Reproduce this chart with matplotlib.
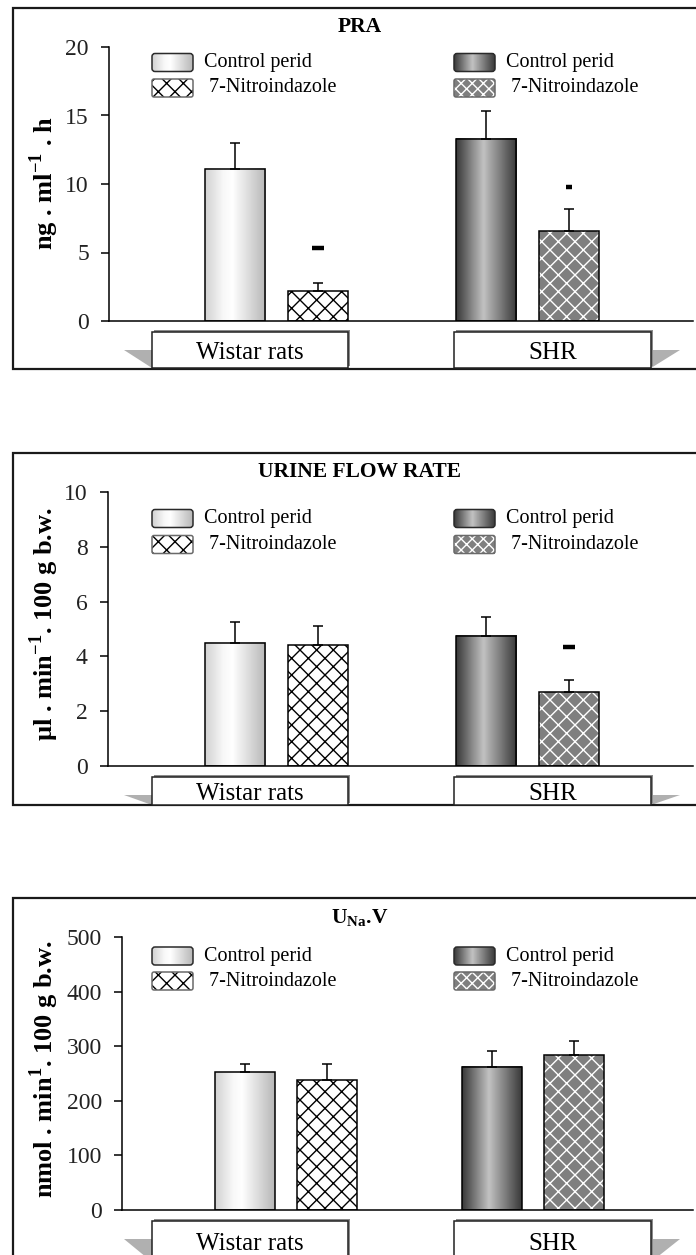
import matplotlib.pyplot as plt
import numpy as np
from matplotlib.colors import LinearSegmentedColormap
from matplotlib.patches import Rectangle, Polygon, FancyBboxPatch

plt.rcParams["font.family"] = ["Liberation Serif", "DejaVu Serif"]
plt.rcParams["mathtext.fontset"] = "custom"
plt.rcParams["mathtext.rm"] = "Liberation Serif"
plt.rcParams["mathtext.bf"] = "Liberation Serif:bold"
plt.rcParams["hatch.linewidth"] = 1.0

# data: order is Wistar control, Wistar 7-NI, SHR control, SHR 7-NI
groups = ["Wistar rats", "SHR"]
series = ["Control perid", " 7-Nitroindazole"]

pra_mean = [11.1, 2.2, 13.3, 6.6]
pra_err = [1.9, 0.6, 2.0, 1.6]
pra_sig = [np.nan, 5.3, np.nan, 9.8]
pra_ticks = [0, 5, 10, 15, 20]

ufr_mean = [4.5, 4.4, 4.75, 2.7]
ufr_err = [0.75, 0.7, 0.7, 0.45]
ufr_sig = [np.nan, np.nan, np.nan, 4.35]
ufr_ticks = [0, 2, 4, 6, 8, 10]

una_mean = [252, 238, 262, 284]
una_err = [15, 29, 30, 26]
una_sig = [np.nan, np.nan, np.nan, np.nan]
una_ticks = [0, 100, 200, 300, 400, 500]

titles = ["PRA", "URINE FLOW RATE", r"U$_{\mathbf{Na}}$.V"]
ylabels = [r"ng . ml$^{\mathbf{-1}}$ . h",
           r"µl . min$^{\mathbf{-1}}$. 100 g b.w.",
           r"nmol . min$^{\mathbf{1}}$. 100 g b.w."]

W, H = 696, 1255
fig = plt.figure(figsize=(W / 100, H / 100), dpi=100)
ov = fig.add_axes([0, 0, 1, 1])
ov.set_xlim(0, W)
ov.set_ylim(H, 0)
ov.axis("off")

wistar_cmap = LinearSegmentedColormap.from_list(
    "wistar", [(0, "#d2d2d2"), (0.3, "#f8f8f8"), (0.45, "#ffffff"), (1, "#b8b8b8")])
shr_cmap = LinearSegmentedColormap.from_list(
    "shr", [(0, "#3a3a3a"), (0.45, "#c2c2c2"), (1, "#3a3a3a")])
ctrl_cmaps = [wistar_cmap, shr_cmap]
ni_face = ["white", "#7f7f7f"]
ni_hatch = ["black", "white"]
leg_hatch = ["xx", "xxx"]
grad = np.linspace(0, 1, 64)[None, :]

layout = [
    dict(spine=109, y0=321, ytop=47, c0=276.75, step=250.75, frame=(8, 369),
         title_y=27, leg=(62.5, 88), ylab=183, box=(332, 368), tri=350),
    dict(spine=108, y0=766, ytop=492, c0=276.75, step=250.75, frame=(453, 805),
         title_y=472, leg=(518.5, 544.5), ylab=624, box=(777, 805), tri=795),
    dict(spine=122, y0=1210, ytop=937, c0=286, step=247, frame=(898, 1300),
         title_y=918, leg=(956, 981), ylab=1069, box=(1221, 1262), tri=1239),
]
panels = [(pra_mean, pra_err, pra_sig, pra_ticks),
          (ufr_mean, ufr_err, ufr_sig, ufr_ticks),
          (una_mean, una_err, una_sig, una_ticks)]
sig_width = [[0, 9, 0, 4.5], [0, 0, 0, 8], [0, 0, 0, 0]]
box_x = [(152, 348), (454, 651)]
leg_x = [152, 454]

offsets = [-0.166, 0.166]
bar_w = 0.24
x_right = 693

for k, (lay, (mean, err, sig, ticks)) in enumerate(zip(layout, panels)):
    # frame (right side is off the picture)
    ft, fb = lay["frame"]
    ov.plot([W + 5, 13, 13, W + 5], [ft, ft, fb, fb], color="#1a1a1a", lw=1.6,
            solid_joinstyle="miter")

    ax = fig.add_axes([lay["spine"] / W, 1 - lay["y0"] / H,
                       (x_right - lay["spine"]) / W, (lay["y0"] - lay["ytop"]) / H])
    ax.set_facecolor("none")

    xs = []
    for g in range(len(groups)):
        for s in range(len(series)):
            xs.append(g + offsets[s])
    xs = np.array(xs)

    for i, (x, m) in enumerate(zip(xs, mean)):
        g, s = divmod(i, 2)
        if s == 0:
            b = ax.bar(x, m, bar_w, facecolor="none", edgecolor="black", lw=1.1, zorder=3)[0]
            ax.imshow(grad, cmap=ctrl_cmaps[g], aspect="auto", zorder=2,
                      extent=(b.get_x(), b.get_x() + b.get_width(), 0, b.get_height()))
        else:
            ax.bar(x, m, bar_w, color=ni_face[g], edgecolor=ni_hatch[g], hatch="xx",
                   lw=0, zorder=2)
            ax.bar(x, m, bar_w, fill=False, edgecolor="black", lw=1.1, zorder=3)

    ax.errorbar(xs, mean, yerr=[np.zeros(len(err)), err], fmt="none", ecolor="black",
                elinewidth=1.1, capsize=3.6, capthick=1.1, zorder=4)

    for x, v, wd in zip(xs, sig, sig_width[k]):
        if not np.isnan(v):
            ax.plot(x, v, marker="_", markersize=wd, markeredgewidth=3.2,
                    color="black", zorder=5)

    ymax = ticks[-1]
    ax.set_ylim(0, ymax)
    ax.set_xlim((lay["spine"] - lay["c0"]) / lay["step"],
                (x_right - lay["c0"]) / lay["step"])
    ax.set_yticks(ticks)
    ax.set_xticks([])
    for sp in ["top", "right"]:
        ax.spines[sp].set_visible(False)
    for sp in ["left", "bottom"]:
        ax.spines[sp].set_linewidth(1.1)
    ax.tick_params(axis="y", direction="out", length=5.5, width=1.1, pad=9,
                   labelsize=17, colors="black")
    for t in ax.get_yticklabels():
        t.set_color("#222222")

    # title and y label
    ov.text(360, lay["title_y"], titles[k], ha="center", va="center",
            fontsize=15.5, fontweight="bold")
    ov.text(44, lay["ylab"], ylabels[k], rotation=90, ha="center", va="center",
            fontsize=19, fontweight="bold")

    # legends
    for g in range(len(groups)):
        lx = leg_x[g]
        for s in range(len(series)):
            yc = lay["leg"][s]
            if s == 0:
                p = FancyBboxPatch((lx, yc - 9), 41, 18,
                                   boxstyle="round,pad=0,rounding_size=3",
                                   facecolor="none", edgecolor="#2a2a2a", lw=1.1, zorder=3)
                ov.add_patch(p)
                im = ov.imshow(grad, cmap=ctrl_cmaps[g], aspect="auto", zorder=2,
                               extent=(lx, lx + 41, yc + 9, yc - 9))
                im.set_clip_path(p)
            else:
                ov.add_patch(Rectangle((lx, yc - 9), 41, 18, facecolor=ni_face[g],
                                       edgecolor=ni_hatch[g], hatch=leg_hatch[g], lw=0,
                                       zorder=2))
                ov.add_patch(FancyBboxPatch((lx, yc - 9), 41, 18,
                                            boxstyle="round,pad=0,rounding_size=2",
                                            facecolor="none", edgecolor="#6a6a6a",
                                            lw=1.1, zorder=3))
            ov.text(lx + 52, yc, series[s], ha="left", va="center", fontsize=14.5)

    # category label boxes
    bt, bb = lay["box"]
    for g, name in enumerate(groups):
        x0, x1 = box_x[g]
        ov.add_patch(Rectangle((x0 + 2, bt - 2), x1 - x0, bb - bt, facecolor="#8a8a8a",
                               edgecolor="none", zorder=2))
        ov.add_patch(Rectangle((x0, bt), x1 - x0, bb - bt, facecolor="white",
                               edgecolor="#222222", lw=1.1, zorder=3))
        ov.text((x0 + x1) / 2, (bt + bb) / 2 + 3, name, ha="center", va="center",
                fontsize=18, zorder=4)
    ov.add_patch(Polygon([(124, lay["tri"]), (box_x[0][0], lay["tri"]), (box_x[0][0], bb)],
                         closed=True, facecolor="#b0b0b0", edgecolor="none", zorder=1))
    ov.add_patch(Polygon([(box_x[1][1], lay["tri"]), (680, lay["tri"]), (box_x[1][1], bb)],
                         closed=True, facecolor="#b0b0b0", edgecolor="none", zorder=1))

fig.savefig("out.png", dpi=100)
